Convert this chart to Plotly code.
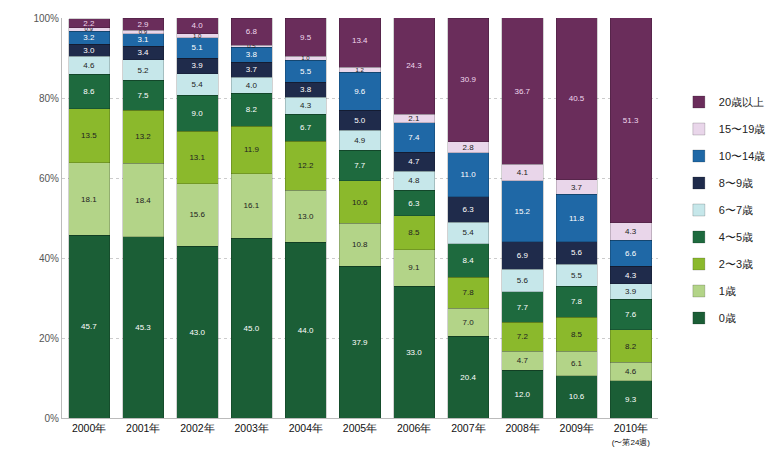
import plotly.graph_objects as go

years = ["2000年", "2001年", "2002年", "2003年", "2004年", "2005年",
         "2006年", "2007年", "2008年", "2009年",
         "2010年<br><span style='font-size:8px'>(〜第24週)</span>"]

age_0 = [45.7, 45.3, 43.0, 45.0, 44.0, 37.9, 33.0, 20.4, 12.0, 10.6, 9.3]
age_1 = [18.1, 18.4, 15.6, 16.1, 13.0, 10.8, 9.1, 7.0, 4.7, 6.1, 4.6]
age_2_3 = [13.5, 13.2, 13.1, 11.9, 12.2, 10.6, 8.5, 7.8, 7.2, 8.5, 8.2]
age_4_5 = [8.6, 7.5, 9.0, 8.2, 6.7, 7.7, 6.3, 8.4, 7.7, 7.8, 7.6]
age_6_7 = [4.6, 5.2, 5.4, 4.0, 4.3, 4.9, 4.8, 5.4, 5.6, 5.5, 3.9]
age_8_9 = [3.0, 3.4, 3.9, 3.7, 3.8, 5.0, 4.7, 6.3, 6.9, 5.6, 4.3]
age_10_14 = [3.2, 3.1, 5.1, 3.8, 5.5, 9.6, 7.4, 11.0, 15.2, 11.8, 6.6]
age_15_19 = [0.9, 0.9, 1.0, 0.5, 1.0, 1.2, 2.1, 2.8, 4.1, 3.7, 4.3]
age_20_plus = [2.2, 2.9, 4.0, 6.8, 9.5, 13.4, 24.3, 30.9, 36.7, 40.5, 51.3]

series_names = ["0歳", "1歳", "2〜3歳", "4〜5歳", "6〜7歳", "8〜9歳",
                "10〜14歳", "15〜19歳", "20歳以上"]
series_values = [age_0, age_1, age_2_3, age_4_5, age_6_7, age_8_9,
                 age_10_14, age_15_19, age_20_plus]
colors = ["#1b5e36", "#b3d488", "#8bb92c", "#1e6a3e", "#c6e7ea",
          "#1f2b4b", "#1f68a6", "#e9d6ea", "#6a2d5b"]
text_colors = ["white", "#222", "#222", "white", "#222",
               "white", "white", "#222", "#f0d8ee"]

fig = go.Figure()
for i, (name, vals, col, tcol) in enumerate(zip(series_names, series_values, colors, text_colors)):
    fig.add_trace(go.Bar(
        x=years, y=vals, name=name, legendgroup=name,
        legendrank=1000 - i,
        marker=dict(color=col, line=dict(color="rgba(0,0,0,0.35)", width=0.5)),
        text=[f"{v:.1f}" for v in vals], textposition="inside",
        insidetextanchor="middle", textangle=0, constraintext="none",
        textfont=dict(size=[8 if v >= 1.5 else 6 for v in vals],
                      color=tcol, family="Arial"),
        hoverinfo="skip",
    ))

fig.update_layout(
    barmode="stack",
    bargap=0.24,
    width=783, height=459,
    margin=dict(l=62, r=118, t=13, b=41),
    paper_bgcolor="white", plot_bgcolor="white",
    font=dict(family="Liberation Sans, Arial", size=11, color="#222"),
    legend=dict(
        x=1.035, y=0.52, xanchor="left", yanchor="middle",
        traceorder="grouped", tracegroupgap=8,
        font=dict(size=11, color="#222"),
        itemwidth=30,
    ),
    showlegend=True,
)
fig.update_yaxes(
    range=[0, 100], tickvals=[0, 20, 40, 60, 80, 100],
    ticktext=["0%", "20%", "40%", "60%", "80%", "100%"],
    showgrid=True, gridcolor="#cccccc", griddash="dot", gridwidth=1,
    showline=True, linecolor="#bbbbbb", ticks="",
    tickfont=dict(size=10, color="#555"),
    zeroline=False,
)
fig.update_xaxes(
    showline=True, linecolor="#bbbbbb",
    tickfont=dict(size=10.5, color="#111"),
)
fig.write_html("out.html")
